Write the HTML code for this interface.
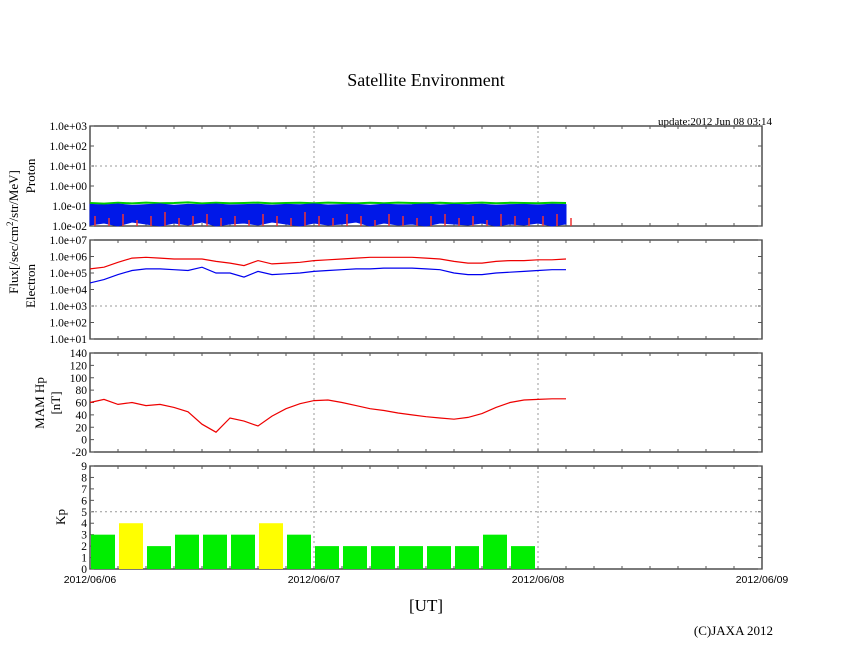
<!DOCTYPE html>
<html><head><meta charset="utf-8"><style>
html,body{margin:0;padding:0;background:#fff;}
svg{display:block;}
.s{font-family:"Liberation Serif",serif;fill:#000;}
.a{font-family:"Liberation Sans",sans-serif;fill:#000;}
</style></head><body>
<svg id="c" width="846" height="655" xmlns="http://www.w3.org/2000/svg">
<text class="s" x="426" y="86" font-size="18" text-anchor="middle">Satellite Environment</text>
<text class="s" x="772" y="125" font-size="11" text-anchor="end">update:2012 Jun 08 03:14</text>
<text class="s" x="426" y="611" font-size="17" text-anchor="middle">[UT]</text>
<text class="s" x="773" y="635" font-size="13" text-anchor="end">(C)JAXA 2012</text>
<text class="s" font-size="13" transform="translate(18,232) rotate(-90)" text-anchor="middle">Flux[/sec/cm<tspan dy="-5" font-size="9">2</tspan><tspan dy="5">/str/MeV]</tspan></text>
<text class="s" font-size="13" transform="translate(35,176) rotate(-90)" text-anchor="middle">Proton</text>
<text class="s" font-size="13" transform="translate(35,286) rotate(-90)" text-anchor="middle">Electron</text>
<text class="s" font-size="13" transform="translate(44,403) rotate(-90)" text-anchor="middle">MAM Hp</text>
<text class="s" font-size="13" transform="translate(60,403) rotate(-90)" text-anchor="middle">[nT]</text>
<text class="s" font-size="13" transform="translate(65,517) rotate(-90)" text-anchor="middle">Kp</text>
<g id="g"></g>
</svg>
<script>
const protonTicks=["1.0e+03","1.0e+02","1.0e+01","1.0e+00","1.0e-01","1.0e-02"];
const electronTicks=["1.0e+07","1.0e+06","1.0e+05","1.0e+04","1.0e+03","1.0e+02","1.0e+01"];
const hpTicks=[140,120,100,80,60,40,20,0,-20];
const kpTicks=[9,8,7,6,5,4,3,2,1,0];
const dateLabels=["2012/06/06","2012/06/07","2012/06/08","2012/06/09"];
// time in hours from 2012/06/06 00:00, step 1.5h
const hours=[0,1.5,3,4.5,6,7.5,9,10.5,12,13.5,15,16.5,18,19.5,21,22.5,24,25.5,27,28.5,30,31.5,33,34.5,36,37.5,39,40.5,42,43.5,45,46.5,48,49.5,51];
const protonBlueTop=[-0.92,-0.95,-0.9,-0.97,-0.93,-0.9,-0.96,-0.92,-0.94,-0.9,-0.95,-0.93,-0.91,-0.96,-0.92,-0.94,-0.9,-0.95,-0.93,-0.92,-0.96,-0.91,-0.94,-0.93,-0.9,-0.95,-0.92,-0.94,-0.91,-0.96,-0.93,-0.92,-0.95,-0.91,-0.93];
const protonBlueBottom=[-1.95,-1.85,-2,-1.8,-1.9,-2,-1.85,-1.95,-1.8,-2,-1.9,-1.85,-1.95,-1.8,-1.9,-2,-1.85,-1.95,-1.9,-1.8,-2,-1.85,-1.95,-1.9,-2,-1.85,-1.9,-1.95,-1.85,-2,-1.9,-1.95,-1.85,-2,-1.9];
const protonGreen=[-0.85,-0.88,-0.84,-0.87,-0.83,-0.86,-0.85,-0.82,-0.87,-0.84,-0.86,-0.85,-0.83,-0.87,-0.85,-0.84,-0.86,-0.83,-0.85,-0.87,-0.84,-0.86,-0.83,-0.85,-0.86,-0.84,-0.87,-0.85,-0.83,-0.86,-0.84,-0.85,-0.86,-0.84,-0.85];
const protonRedSpike=[-1.5,-1.6,-1.4,-1.7,-1.5,-1.3,-1.6,-1.5,-1.4,-1.6,-1.5,-1.7,-1.4,-1.5,-1.6,-1.3,-1.5,-1.6,-1.4,-1.5,-1.7,-1.4,-1.5,-1.6,-1.5,-1.4,-1.6,-1.5,-1.7,-1.4,-1.5,-1.6,-1.5,-1.4,-1.6];
const electronRed=[5.25,5.35,5.65,5.9,5.95,5.9,5.85,5.85,5.85,5.7,5.6,5.45,5.75,5.55,5.6,5.65,5.75,5.8,5.85,5.9,5.95,5.95,5.95,5.95,5.9,5.85,5.7,5.6,5.6,5.7,5.75,5.75,5.8,5.8,5.85];
const electronBlue=[4.4,4.6,4.9,5.15,5.25,5.25,5.2,5.15,5.35,5.0,5.0,4.75,5.1,4.9,4.95,5.0,5.1,5.15,5.2,5.25,5.25,5.3,5.3,5.3,5.25,5.2,5.0,4.9,4.9,5.0,5.05,5.1,5.15,5.2,5.2];
const hpValues=[60,65,57,60,55,57,52,45,25,12,35,30,22,38,50,58,63,64,60,55,50,47,43,40,37,35,33,36,42,52,60,64,65,66,66];
const kpValues=[3,4,2,3,3,3,4,3,2,2,2,2,2,2,3,2];

const NS="http://www.w3.org/2000/svg";
const g=document.getElementById('g');
const X0=90,X1=762;
const xs=h=>X0+h*(X1-X0)/72;
function el(t,a){const e=document.createElementNS(NS,t);for(const k in a)e.setAttribute(k,a[k]);g.appendChild(e);return e;}
const panels=[{t:126,b:226,min:-2,max:3},{t:240,b:339,min:1,max:7},{t:353,b:452,min:-20,max:140},{t:466,b:569,min:0,max:9}];
const ys=(p,v)=>p.b-(v-p.min)*(p.b-p.t)/(p.max-p.min);
const names=['proton-panel','electron-panel','hp-panel','kp-panel'];
panels.forEach((p,i)=>{
  const r=el('rect',{x:X0,y:p.t,width:X1-X0,height:p.b-p.t,fill:'none',stroke:'#333','stroke-width':1.3});
  
  
  [24,48].forEach(h=>{const l=el('line',{x1:xs(h),x2:xs(h),y1:p.t,y2:p.b,stroke:'#999','stroke-dasharray':'2,3'});
    });
  for(let h=3;h<72;h+=3){el('line',{x1:xs(h),x2:xs(h),y1:p.t,y2:p.t+3,stroke:'#555'});el('line',{x1:xs(h),x2:xs(h),y1:p.b,y2:p.b-3,stroke:'#555'});}
});
function ytick(p,v,label,name){
  const y=ys(p,v);
  el('line',{x1:X0,x2:X0+4,y1:y,y2:y,stroke:'#555'});el('line',{x1:X1,x2:X1-4,y1:y,y2:y,stroke:'#555'});
  const t=el('text',{x:X0-3,y:y+4,'font-size':11.5,'text-anchor':'end',class:'s'});t.textContent=label;
  
  
}
protonTicks.forEach((l,i)=>ytick(panels[0],3-i,l,'proton-tick-label'));
electronTicks.forEach((l,i)=>ytick(panels[1],7-i,l,'electron-tick-label'));
hpTicks.forEach(v=>ytick(panels[2],v,String(v),'hp-tick-label'));
kpTicks.forEach(v=>ytick(panels[3],v,String(v),'kp-tick-label'));
function hgrid(p,v){const y=ys(p,v);const l=el('line',{x1:X0,x2:X1,y1:y,y2:y,stroke:'#999','stroke-dasharray':'2,3'});
  }
hgrid(panels[0],1);hgrid(panels[1],3);hgrid(panels[3],5);
dateLabels.forEach((d,i)=>{const t=el('text',{x:xs(i*24),y:583,'font-size':10.5,'text-anchor':'middle',class:'a'});t.textContent=d;
  });
// proton
const p0=panels[0];
let band='';hours.forEach((h,i)=>band+=(i?'L':'M')+xs(h)+','+ys(p0,protonBlueTop[i]));
for(let i=hours.length-1;i>=0;i--)band+='L'+xs(hours[i])+','+Math.min(p0.b,ys(p0,protonBlueBottom[i]));
let gp='';hours.forEach((h,i)=>gp+=(i?'L':'M')+xs(h)+','+ys(p0,protonGreen[i]));
const pg=el('path',{d:gp,fill:'none',stroke:'#0c0','stroke-width':2});

const pb=el('path',{d:band+'Z',fill:'#0018e8',stroke:'#0018e8'});

hours.forEach((h,i)=>{const l=el('line',{x1:xs(h)+5,x2:xs(h)+5,y1:p0.b,y2:ys(p0,protonRedSpike[i]),stroke:'#e33','stroke-width':1.5});
  });
function line(p,arr,color,name){let d='';hours.forEach((h,i)=>d+=(i?'L':'M')+xs(h).toFixed(1)+','+ys(p,arr[i]).toFixed(1));
  const e=el('path',{d:d,fill:'none',stroke:color,'stroke-width':1.2});}
line(panels[1],electronRed,'#e00','electron-red-series');
line(panels[1],electronBlue,'#00e','electron-blue-series');
line(panels[2],hpValues,'#e00','hp-series');
const p3=panels[3];
kpValues.forEach((v,i)=>{const x=xs(i*3)+1,y=ys(p3,v);
  const r=el('rect',{x:x,y:y,width:xs(3)-X0-4,height:p3.b-y,fill:v>=4?'#ffff00':'#00ee00'});
  });
</script>
</body></html>
